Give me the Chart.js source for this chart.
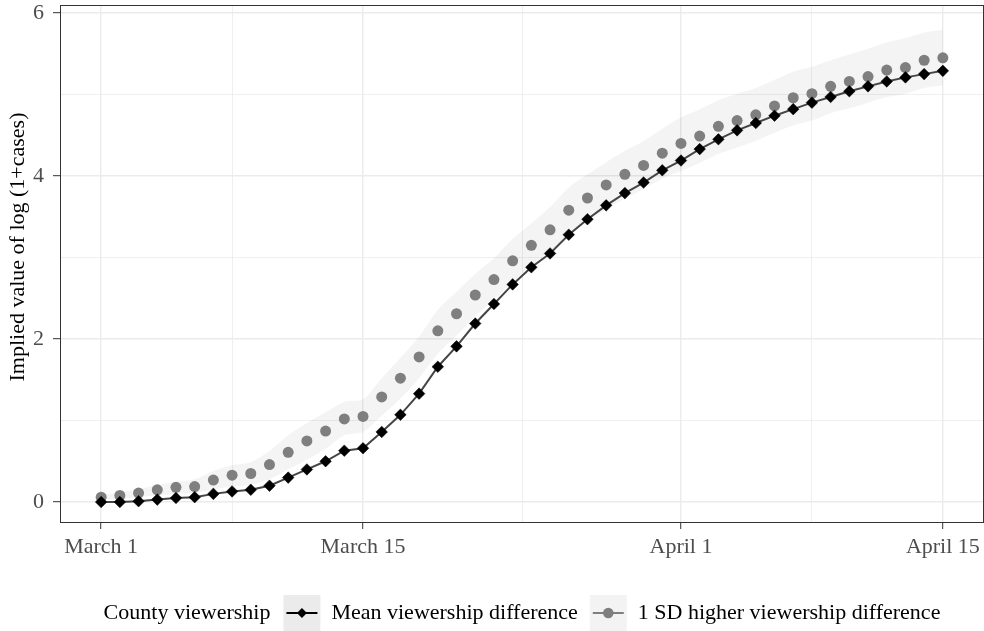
<!DOCTYPE html>
<html>
<head>
<meta charset="utf-8">
<script src="https://cdn.jsdelivr.net/npm/chart.js@4.4.1/dist/chart.umd.min.js"></script>
<style>
  html, body { margin: 0; padding: 0; background: #ffffff; overflow: hidden; }
  canvas { display: block; }
</style>
</head>
<body>
<canvas id="c" width="984" height="631" style="width:984px;height:631px"></canvas>
<script>
// ---- Data (day 0 = March 1, day 45 = April 15) ----
const meanDiff = [0.00, 0.00, 0.01, 0.03, 0.05, 0.06, 0.10, 0.13, 0.15, 0.20,
                  0.30, 0.40, 0.50, 0.63, 0.66, 0.86, 1.07, 1.33, 1.66, 1.91,
                  2.19, 2.43, 2.67, 2.88, 3.05, 3.28, 3.47, 3.64, 3.79, 3.92,
                  4.07, 4.19, 4.33, 4.45, 4.56, 4.65, 4.74, 4.82, 4.90, 4.97,
                  5.04, 5.10, 5.16, 5.21, 5.25, 5.29];
const sdHigher = [0.06, 0.08, 0.11, 0.15, 0.18, 0.19, 0.27, 0.33, 0.35, 0.46,
                  0.61, 0.75, 0.87, 1.02, 1.05, 1.29, 1.52, 1.78, 2.10, 2.31,
                  2.54, 2.73, 2.96, 3.15, 3.34, 3.58, 3.73, 3.89, 4.02, 4.13,
                  4.28, 4.40, 4.49, 4.61, 4.68, 4.75, 4.86, 4.96, 5.01, 5.10,
                  5.16, 5.22, 5.30, 5.33, 5.42, 5.45];
const sdLower  = [0.03, 0.04, 0.06, 0.08, 0.10, 0.11, 0.15, 0.19, 0.21, 0.28,
                  0.40, 0.52, 0.65, 0.82, 0.86, 1.06, 1.27, 1.52, 1.82, 2.04,
                  2.28, 2.48, 2.70, 2.89, 3.06, 3.28, 3.44, 3.59, 3.72, 3.84,
                  3.97, 4.06, 4.16, 4.27, 4.35, 4.43, 4.53, 4.62, 4.68, 4.77,
                  4.83, 4.90, 4.97, 5.01, 5.08, 5.11];
const sdUpper  = [0.09, 0.12, 0.16, 0.21, 0.25, 0.28, 0.38, 0.45, 0.49, 0.63,
                  0.82, 0.97, 1.10, 1.23, 1.26, 1.52, 1.77, 2.03, 2.36, 2.58,
                  2.80, 2.99, 3.23, 3.42, 3.62, 3.86, 4.02, 4.17, 4.31, 4.43,
                  4.58, 4.72, 4.82, 4.93, 5.01, 5.08, 5.18, 5.28, 5.34, 5.42,
                  5.49, 5.56, 5.64, 5.69, 5.76, 5.79];

const xMajorDays   = [0, 14, 31, 45];
const xMajorLabels = ['March 1', 'March 15', 'April 1', 'April 15'];
const xMinorDays   = [7, 22.5, 38];
const yMajorTicks  = [0, 2, 4, 6];
const yMinorTicks  = [1, 3, 5];

const seriesNames = ['Mean viewership difference', '1 SD higher viewership difference'];
const legendTitle = 'County viewership';
const yTitle = 'Implied value of log (1+cases)';

// ---- Styling ----
const FONT_FAMILY = '"Liberation Serif", "Times New Roman", serif';
const FONT_SIZE = 22;

const toXY = arr => arr.map((v, i) => ({ x: i, y: v }));
const xTickVals = [...xMajorDays, ...xMinorDays].sort((a, b) => a - b);
const yTickVals = [...yMajorTicks, ...yMinorTicks].sort((a, b) => a - b);

const isMajorX = v => xMajorDays.includes(v);
const isMajorY = v => yMajorTicks.includes(v);

const panelPlugin = {
  id: 'panel',
  afterDatasetsDraw(chart) {
    const { ctx, chartArea: a } = chart;
    ctx.save();
    ctx.strokeStyle = '#333333';
    ctx.lineWidth = 1;
    ctx.strokeRect(a.left + 0.5, a.top + 0.5, a.right - a.left - 1, a.bottom - a.top);
    ctx.restore();
  },
  afterDraw(chart) {
    const { ctx, chartArea: a } = chart;
    ctx.save();
    // y axis title
    ctx.font = `${FONT_SIZE}px ${FONT_FAMILY}`;
    ctx.fillStyle = '#000000';
    ctx.textAlign = 'center';
    ctx.textBaseline = 'middle';
    ctx.translate(18, 247);
    ctx.rotate(-Math.PI / 2);
    ctx.fillText(yTitle, 0, 0);
    ctx.restore();

    // legend
    ctx.save();
    ctx.font = `${FONT_SIZE}px ${FONT_FAMILY}`;
    ctx.textBaseline = 'middle';
    ctx.textAlign = 'left';
    const tW = ctx.measureText(legendTitle).width;
    const w1 = ctx.measureText(seriesNames[0]).width;
    const w2 = ctx.measureText(seriesNames[1]).width;
    const keyW = 37, keyH = 36, gT = 13, gK = 11, gL = 12;
    const total = tW + gT + keyW + gK + w1 + gL + keyW + gK + w2;
    let x = (a.left + a.right) / 2 - total / 2;
    const cy = 613;
    ctx.fillStyle = '#000000';
    ctx.fillText(legendTitle, x, cy);
    x += tW + gT;
    // key 1
    ctx.fillStyle = '#ebebeb';
    ctx.fillRect(x, cy - keyH / 2, keyW, keyH);
    ctx.strokeStyle = '#000000';
    ctx.lineWidth = 2;
    ctx.beginPath(); ctx.moveTo(x + 3, cy); ctx.lineTo(x + keyW - 3, cy); ctx.stroke();
    ctx.fillStyle = '#000000';
    ctx.beginPath();
    const r1 = 5;
    ctx.moveTo(x + keyW / 2 - r1, cy); ctx.lineTo(x + keyW / 2, cy - r1);
    ctx.lineTo(x + keyW / 2 + r1, cy); ctx.lineTo(x + keyW / 2, cy + r1); ctx.closePath(); ctx.fill();
    x += keyW + gK;
    ctx.fillText(seriesNames[0], x, cy);
    x += w1 + gL;
    // key 2
    ctx.fillStyle = '#f3f3f3';
    ctx.fillRect(x, cy - keyH / 2, keyW, keyH);
    ctx.strokeStyle = '#7f7f7f';
    ctx.lineWidth = 2;
    ctx.beginPath(); ctx.moveTo(x + 3, cy); ctx.lineTo(x + keyW - 3, cy); ctx.stroke();
    ctx.fillStyle = '#7f7f7f';
    ctx.beginPath(); ctx.arc(x + keyW / 2, cy, 5.3, 0, Math.PI * 2); ctx.fill();
    x += keyW + gK;
    ctx.fillStyle = '#000000';
    ctx.fillText(seriesNames[1], x, cy);
    ctx.restore();
  }
};

new Chart(document.getElementById('c'), {
  type: 'line',
  data: {
    datasets: [
      {
        label: seriesNames[0],
        data: toXY(meanDiff),
        borderColor: '#454545',
        borderWidth: 2,
        pointStyle: 'rectRot',
        pointRadius: 5.8,
        pointBackgroundColor: '#000000',
        pointBorderColor: '#000000',
        pointBorderWidth: 0.5,
        fill: false,
        tension: 0,
        order: 0
      },
      {
        label: seriesNames[1],
        data: toXY(sdHigher),
        showLine: false,
        pointStyle: 'circle',
        pointRadius: 5.5,
        pointBackgroundColor: '#7f7f7f',
        pointBorderColor: '#7f7f7f',
        pointBorderWidth: 0,
        fill: false,
        order: 1
      },
      {
        label: 'lower',
        data: toXY(sdLower),
        borderWidth: 0,
        borderColor: 'rgba(0,0,0,0)',
        pointRadius: 0,
        fill: false,
        tension: 0.3,
        order: 3
      },
      {
        label: 'upper',
        data: toXY(sdUpper),
        borderWidth: 0,
        borderColor: 'rgba(0,0,0,0)',
        backgroundColor: 'rgba(0,0,0,0.045)',
        pointRadius: 0,
        fill: 2,
        tension: 0.3,
        order: 2
      }
    ]
  },
  options: {
    responsive: false,
    maintainAspectRatio: false,
    devicePixelRatio: 1,
    animation: false,
    events: [],
    layout: { autoPadding: false, padding: { top: 5, right: 0, bottom: 0, left: 0 } },
    plugins: {
      legend: { display: false },
      tooltip: { enabled: false },
      title: { display: false }
    },
    scales: {
      x: {
        type: 'linear',
        min: -2.2,
        max: 47.2,
        afterBuildTicks: s => { s.ticks = xTickVals.map(v => ({ value: v })); },
        afterFit: s => { s.height = 109; s.paddingLeft = 0; s.paddingRight = 0; },
        ticks: {
          autoSkip: false,
          maxRotation: 0,
          padding: 5,
          color: '#4d4d4d',
          font: { family: FONT_FAMILY, size: FONT_SIZE },
          callback: (v) => { const i = xMajorDays.indexOf(v); return i >= 0 ? xMajorLabels[i] : ''; }
        },
        grid: {
          color: '#ebebeb',
          lineWidth: c => isMajorX(c.tick.value) ? 1.4 : 0.8,
          tickColor: c => isMajorX(c.tick.value) ? '#333333' : 'rgba(0,0,0,0)',
          tickLength: 7,
          tickWidth: 1
        },
        border: { display: false }
      },
      y: {
        type: 'linear',
        min: -0.245,
        max: 6.098,
        afterBuildTicks: s => { s.ticks = yTickVals.map(v => ({ value: v })); },
        afterFit: s => { s.width = 60; s.paddingTop = 0; s.paddingBottom = 0; },
        ticks: {
          autoSkip: false,
          padding: 9,
          color: '#4d4d4d',
          font: { family: FONT_FAMILY, size: FONT_SIZE },
          callback: (v) => isMajorY(v) ? String(v) : ''
        },
        grid: {
          color: '#ebebeb',
          lineWidth: c => isMajorY(c.tick.value) ? 1.4 : 0.8,
          tickColor: c => isMajorY(c.tick.value) ? '#333333' : 'rgba(0,0,0,0)',
          tickLength: 7,
          tickWidth: 1
        },
        border: { display: false }
      }
    }
  },
  plugins: [panelPlugin]
});
</script>
</body>
</html>
